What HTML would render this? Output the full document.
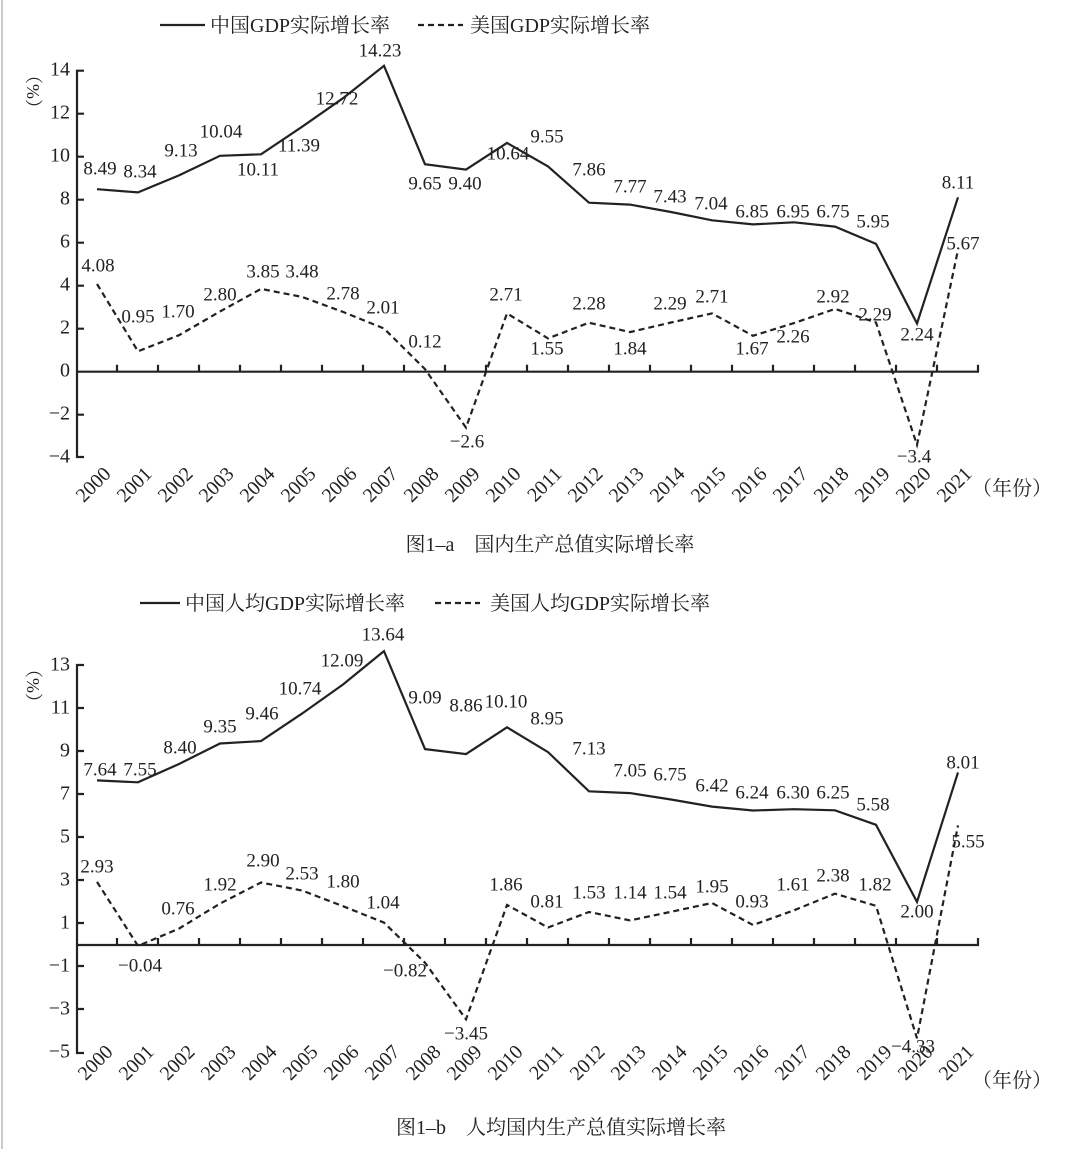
<!DOCTYPE html>
<html><head><meta charset="utf-8"><style>
html,body{margin:0;padding:0;background:#fff;}
svg text{font-family:"Liberation Serif","Noto Serif CJK SC",serif;fill:#222;}
</style></head><body>
<svg width="1072" height="1149" viewBox="0 0 1072 1149" xmlns="http://www.w3.org/2000/svg">
<rect width="1072" height="1149" fill="#fff"/>
<line x1="2" y1="0" x2="2" y2="1149" stroke="#ccc" stroke-width="2"/>
<g stroke="#222" stroke-width="2.2" fill="none">
<path d="M84 70.7H77V457H84 M77 113.7H84 M77 156.7H84 M77 199.7H84 M77 242.7H84 M77 285.7H84 M77 328.7H84 M77 414.7H84"/>
<path d="M77 371.7H979"/>
<path d="M117 371.7v-7 M158 371.7v-7 M199 371.7v-7 M240 371.7v-7 M281 371.7v-7 M322 371.7v-7 M363 371.7v-7 M404 371.7v-7 M445 371.7v-7 M486 371.7v-7 M527 371.7v-7 M568 371.7v-7 M609 371.7v-7 M650 371.7v-7 M691 371.7v-7 M732 371.7v-7 M773 371.7v-7 M814 371.7v-7 M855 371.7v-7 M896 371.7v-7 M937 371.7v-7 M978 371.7v-7"/>
<polyline points="97,189.2 138,192.4 179,175.4 220,155.8 261,154.3 302,126.8 343,98.2 384,65.8 425,164.2 466,169.6 507,142.9 548,166.4 589,202.7 630,204.6 671,212 712,220.3 753,224.4 794,222.3 835,226.6 876,243.8 917,323.5 958,197.3"/>
<polyline stroke-dasharray="6,4" points="97,284 138,351.3 179,335.2 220,311.5 261,288.9 302,296.9 343,311.9 384,328.5 425,369.1 466,427.6 507,313.4 548,338.4 589,322.7 630,332.1 671,322.5 712,313.4 753,335.8 794,323.1 835,308.9 876,322.5 917,444.8 958,249.8"/>
<line x1="160" y1="25" x2="205" y2="25"/>
<line x1="418" y1="25" x2="463" y2="25" stroke-dasharray="6,4"/>
<path d="M84 665H77V1053H84 M77 708H84 M77 751H84 M77 794H84 M77 837H84 M77 880H84 M77 923H84 M77 966H84 M77 1009H84"/>
<path d="M77 945H979"/>
<path d="M117 945v-7 M158 945v-7 M199 945v-7 M240 945v-7 M281 945v-7 M322 945v-7 M363 945v-7 M404 945v-7 M445 945v-7 M486 945v-7 M527 945v-7 M568 945v-7 M609 945v-7 M650 945v-7 M691 945v-7 M732 945v-7 M773 945v-7 M814 945v-7 M855 945v-7 M896 945v-7 M937 945v-7 M978 945v-7"/>
<polyline points="97,780.4 138,782.3 179,764 220,743.5 261,741.1 302,713.6 343,684.5 384,651.1 425,749.1 466,754.1 507,727.3 548,752.1 589,791.3 630,793.1 671,799.5 712,806.6 753,810.5 794,809.2 835,810.3 876,824.8 917,901.9 958,772.4"/>
<polyline stroke-dasharray="6,4" points="97,881.9 138,945.9 179,928.6 220,903.6 261,882.5 302,890.5 343,906.2 384,922.6 425,962.7 466,1019.3 507,904.9 548,927.5 589,912 630,920.4 671,911.8 712,903 753,925 794,910.3 835,893.7 876,905.8 917,1038.3 958,825.4"/>
<line x1="140" y1="603" x2="180" y2="603"/>
<line x1="435" y1="603" x2="480" y2="603" stroke-dasharray="6,4"/>
</g>
<g font-size="20">
<text x="210" y="32">中国GDP实际增长率</text>
<text x="470" y="32">美国GDP实际增长率</text>
<text x="185" y="610">中国人均GDP实际增长率</text>
<text x="490" y="610">美国人均GDP实际增长率</text>
</g>
<g font-size="20" text-anchor="end" dominant-baseline="middle">
<text x="70" y="71">14</text><text x="70" y="114">12</text><text x="70" y="157">10</text><text x="70" y="200">8</text><text x="70" y="243">6</text><text x="70" y="286">4</text><text x="70" y="329">2</text><text x="70" y="372">0</text><text x="70" y="415">−2</text><text x="70" y="458">−4</text>
<text x="70" y="666">13</text><text x="70" y="709">11</text><text x="70" y="752">9</text><text x="70" y="795">7</text><text x="70" y="838">5</text><text x="70" y="881">3</text><text x="70" y="924">1</text><text x="70" y="967">−1</text><text x="70" y="1010">−3</text><text x="70" y="1053">−5</text>
</g>
<g font-size="18">
<text transform="translate(27,66) rotate(90)">（%）</text>
<text transform="translate(27,660) rotate(90)">（%）</text>
</g>
<g font-size="19" text-anchor="middle" dominant-baseline="middle">
<text x="100" y="170">8.49</text><text x="140" y="173">8.34</text><text x="181" y="152">9.13</text><text x="221" y="133">10.04</text><text x="258" y="171">10.11</text><text x="299" y="147">11.39</text><text x="337" y="100">12.72</text><text x="380" y="52">14.23</text><text x="425" y="185">9.65</text><text x="465" y="185">9.40</text><text x="508" y="155">10.64</text><text x="547" y="138">9.55</text><text x="589" y="171">7.86</text><text x="630" y="188">7.77</text><text x="670" y="198">7.43</text><text x="711" y="205">7.04</text><text x="752" y="213">6.85</text><text x="793" y="213">6.95</text><text x="833" y="213">6.75</text><text x="873" y="223">5.95</text><text x="917" y="336">2.24</text><text x="958" y="184">8.11</text>
<text x="98" y="267">4.08</text><text x="138" y="318">0.95</text><text x="178" y="313">1.70</text><text x="220" y="296">2.80</text><text x="263" y="273">3.85</text><text x="302" y="273">3.48</text><text x="343" y="295">2.78</text><text x="383" y="309">2.01</text><text x="425" y="343">0.12</text><text x="467" y="443">−2.6</text><text x="506" y="296">2.71</text><text x="547" y="350">1.55</text><text x="589" y="305">2.28</text><text x="630" y="350">1.84</text><text x="670" y="305">2.29</text><text x="712" y="298">2.71</text><text x="752" y="350">1.67</text><text x="793" y="338">2.26</text><text x="833" y="298">2.92</text><text x="875" y="316">2.29</text><text x="914" y="458">−3.4</text><text x="963" y="245">5.67</text>
<text x="100" y="771">7.64</text><text x="140" y="771">7.55</text><text x="180" y="749">8.40</text><text x="220" y="728">9.35</text><text x="262" y="715">9.46</text><text x="300" y="690">10.74</text><text x="342" y="662">12.09</text><text x="383" y="636">13.64</text><text x="425" y="699">9.09</text><text x="466" y="707">8.86</text><text x="506" y="703">10.10</text><text x="547" y="720">8.95</text><text x="589" y="750">7.13</text><text x="630" y="772">7.05</text><text x="670" y="776">6.75</text><text x="712" y="787">6.42</text><text x="752" y="794">6.24</text><text x="793" y="794">6.30</text><text x="833" y="794">6.25</text><text x="873" y="806">5.58</text><text x="917" y="913">2.00</text><text x="963" y="764">8.01</text>
<text x="97" y="868">2.93</text><text x="140" y="967">−0.04</text><text x="178" y="910">0.76</text><text x="220" y="886">1.92</text><text x="263" y="862">2.90</text><text x="302" y="875">2.53</text><text x="343" y="883">1.80</text><text x="383" y="904">1.04</text><text x="405" y="972">−0.82</text><text x="466" y="1035">−3.45</text><text x="506" y="886">1.86</text><text x="547" y="903">0.81</text><text x="589" y="894">1.53</text><text x="630" y="894">1.14</text><text x="670" y="894">1.54</text><text x="712" y="888">1.95</text><text x="752" y="903">0.93</text><text x="793" y="886">1.61</text><text x="833" y="877">2.38</text><text x="875" y="886">1.82</text><text x="913" y="1048">−4.33</text><text x="968" y="843">5.55</text>
</g>
<g font-size="20" text-anchor="end">
<text transform="translate(112,475) rotate(-45)">2000</text><text transform="translate(153,475) rotate(-45)">2001</text><text transform="translate(194,475) rotate(-45)">2002</text><text transform="translate(235,475) rotate(-45)">2003</text><text transform="translate(276,475) rotate(-45)">2004</text><text transform="translate(317,475) rotate(-45)">2005</text><text transform="translate(358,475) rotate(-45)">2006</text><text transform="translate(399,475) rotate(-45)">2007</text><text transform="translate(440,475) rotate(-45)">2008</text><text transform="translate(481,475) rotate(-45)">2009</text><text transform="translate(522,475) rotate(-45)">2010</text><text transform="translate(563,475) rotate(-45)">2011</text><text transform="translate(604,475) rotate(-45)">2012</text><text transform="translate(645,475) rotate(-45)">2013</text><text transform="translate(686,475) rotate(-45)">2014</text><text transform="translate(727,475) rotate(-45)">2015</text><text transform="translate(768,475) rotate(-45)">2016</text><text transform="translate(809,475) rotate(-45)">2017</text><text transform="translate(850,475) rotate(-45)">2018</text><text transform="translate(891,475) rotate(-45)">2019</text><text transform="translate(932,475) rotate(-45)">2020</text><text transform="translate(973,475) rotate(-45)">2021</text>
<text transform="translate(114,1053) rotate(-45)">2000</text><text transform="translate(155,1053) rotate(-45)">2001</text><text transform="translate(196,1053) rotate(-45)">2002</text><text transform="translate(237,1053) rotate(-45)">2003</text><text transform="translate(278,1053) rotate(-45)">2004</text><text transform="translate(319,1053) rotate(-45)">2005</text><text transform="translate(360,1053) rotate(-45)">2006</text><text transform="translate(401,1053) rotate(-45)">2007</text><text transform="translate(442,1053) rotate(-45)">2008</text><text transform="translate(483,1053) rotate(-45)">2009</text><text transform="translate(524,1053) rotate(-45)">2010</text><text transform="translate(565,1053) rotate(-45)">2011</text><text transform="translate(606,1053) rotate(-45)">2012</text><text transform="translate(647,1053) rotate(-45)">2013</text><text transform="translate(688,1053) rotate(-45)">2014</text><text transform="translate(729,1053) rotate(-45)">2015</text><text transform="translate(770,1053) rotate(-45)">2016</text><text transform="translate(811,1053) rotate(-45)">2017</text><text transform="translate(852,1053) rotate(-45)">2018</text><text transform="translate(893,1053) rotate(-45)">2019</text><text transform="translate(934,1053) rotate(-45)">2020</text><text transform="translate(975,1053) rotate(-45)">2021</text>
</g>
<g font-size="20">
<text x="972" y="495">（年份）</text>
<text x="972" y="1087">（年份）</text>
</g>
<g font-size="20" text-anchor="middle">
<text x="550" y="551">图1–a　国内生产总值实际增长率</text>
<text x="561" y="1134">图1–b　人均国内生产总值实际增长率</text>
</g>
</svg>
</body></html>
